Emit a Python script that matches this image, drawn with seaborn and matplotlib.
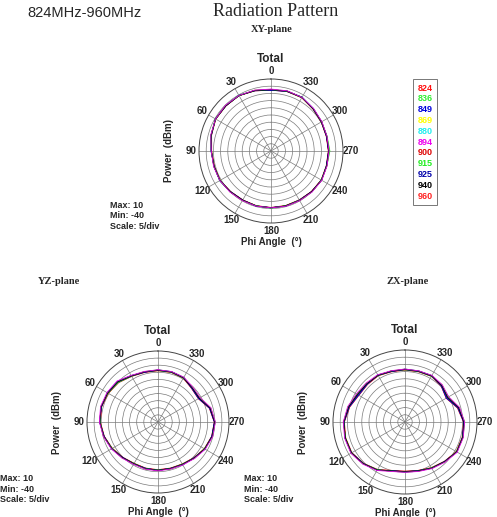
import numpy as np
import pandas as pd
import matplotlib
matplotlib.use("Agg")
import matplotlib.pyplot as plt
from matplotlib.lines import Line2D
import seaborn as sns

freqs = ["824", "836", "849", "869", "880", "894", "900", "915", "925", "940", "960"]
freq_colors = ["#ff1010", "#33ee33", "#0000dd", "#ffff00", "#22eeee", "#ee00ee",
               "#dd0000", "#22ee22", "#0000aa", "#000000", "#ff2020"]
# order the traces are drawn in (last one ends up on top)
draw_order = ["960", "869", "880", "900", "824", "849", "836", "925", "915", "940", "894"]

# measured angle (deg), every 15 deg
angles_deg = list(range(0, 360, 15))

# power in dBm, one list per frequency
xy_power = {
    "824": [2.5, 3.5, 4.5, 4.5, 4.5, 3.0, 1.5, 1.0, 1.0, 0.0, -0.5, -0.5, -0.5, -0.5, -0.5, 0.0, 0.5, 0.0, 0.0, 0.0, 0.5, 1.5, 3.0, 3.0],
    "836": [2.8, 3.6, 4.3, 4.7, 4.4, 3.2, 1.3, 1.2, 0.8, 0.2, -0.3, -0.6, -0.4, -0.7, -0.3, 0.2, 0.3, 0.2, 0.6, 0.1, 0.7, 1.6, 2.8, 3.2],
    "849": [2.2, 3.3, 4.6, 4.3, 4.6, 2.8, 1.7, 0.9, 1.1, -0.2, -0.6, -0.3, -0.7, -0.4, -0.6, -0.1, 0.6, -0.2, 0.1, -0.2, 0.4, 1.3, 3.1, 2.8],
    "869": [2.6, 3.7, 4.4, 4.6, 4.3, 3.1, 1.4, 1.1, 0.9, 0.1, -0.4, -0.5, -0.6, -0.5, -0.4, 0.1, 0.4, 0.1, 0.2, 0.0, 0.6, 1.4, 2.9, 3.1],
    "880": [2.4, 3.4, 4.7, 4.4, 4.7, 2.9, 1.6, 0.8, 1.2, -0.1, -0.7, -0.4, -0.3, -0.6, -0.7, 0.0, 0.5, -0.1, -0.1, 0.1, 0.3, 1.7, 3.2, 2.9],
    "894": [3.0, 3.8, 4.5, 4.8, 4.5, 3.3, 1.5, 1.3, 1.0, 0.3, -0.2, -0.4, -0.5, -0.3, -0.2, 0.3, 0.7, 0.3, 0.3, 0.2, 0.8, 1.8, 3.0, 3.3],
    "900": [2.3, 3.2, 4.4, 4.2, 4.3, 2.7, 1.2, 0.7, 0.8, -0.3, -0.8, -0.7, -0.8, -0.8, -0.8, -0.3, 0.2, -0.3, -0.2, -0.3, 0.2, 1.2, 2.7, 2.7],
    "915": [2.7, 3.5, 4.6, 4.5, 4.6, 3.0, 1.6, 1.0, 1.1, 0.0, -0.4, -0.6, -0.4, -0.5, -0.5, 0.1, 0.5, 0.1, 0.9, 0.3, 0.5, 1.5, 3.0, 3.0],
    "925": [2.5, 3.6, 4.5, 4.6, 4.4, 3.1, 1.5, 1.1, 1.0, 0.1, -0.5, -0.5, -0.6, -0.4, -0.5, 0.0, 0.4, 0.0, 0.0, 0.1, 0.6, 1.6, 3.1, 3.1],
    "940": [2.6, 3.4, 4.4, 4.4, 4.5, 3.0, 1.4, 1.0, 0.9, 0.0, -0.6, -0.5, -0.5, -0.6, -0.4, -0.1, 0.5, 0.0, 0.1, 0.0, 0.5, 1.4, 2.9, 3.0],
    "960": [2.4, 3.5, 4.5, 4.5, 4.6, 2.9, 1.5, 0.9, 1.0, -0.1, -0.5, -0.4, -0.5, -0.5, -0.6, 0.0, 0.6, 0.1, 0.0, -0.1, 0.4, 1.5, 3.0, 2.9],
}

yz_power = {
    "824": [-3.5, -3.5, -2.5, 0.0, 1.0, 1.5, 1.0, -0.5, -2.5, -4.5, -6.0, -6.0, -6.0, -6.0, -5.5, -4.0, -2.0, -0.5, 0.0, -2.0, -6.5, -6.0, -4.0, -3.5],
    "836": [-3.8, -3.2, -2.8, -0.6, 0.6, 1.7, 0.8, -0.3, -2.8, -4.2, -6.3, -5.7, -6.2, -5.8, -5.8, -3.7, -2.3, -0.2, 0.3, -1.6, -6.0, -5.5, -4.3, -3.7],
    "849": [-3.3, -3.7, -2.2, 0.5, 1.3, 1.2, 1.2, -0.8, -2.2, -4.8, -5.8, -6.3, -5.8, -6.2, -5.2, -4.3, -1.8, -0.8, -0.3, -2.4, -7.0, -6.4, -3.8, -3.3],
    "869": [-3.6, -3.4, -2.6, -0.3, 0.8, 1.6, 0.9, -0.4, -2.6, -4.4, -6.1, -5.9, -6.1, -5.9, -5.6, -3.9, -2.1, -0.4, 0.1, -1.8, -6.2, -5.8, -4.1, -3.6],
    "880": [-3.4, -3.6, -2.4, 0.3, 1.1, 1.4, 1.1, -0.6, -2.4, -4.6, -5.9, -6.1, -5.9, -6.1, -5.4, -4.1, -1.9, -0.6, -0.1, -2.2, -6.8, -6.2, -3.9, -3.4],
    "894": [-3.2, -3.1, -2.1, 0.8, 1.5, 1.9, 1.3, -0.2, -2.1, -4.1, -5.6, -5.6, -5.6, -5.7, -5.1, -3.6, -1.6, -0.1, 0.4, -1.4, -5.7, -5.3, -3.6, -3.2],
    "900": [-3.9, -3.9, -2.9, -0.8, 0.4, 1.1, 0.6, -0.9, -2.9, -4.9, -6.4, -6.4, -6.4, -6.4, -5.9, -4.4, -2.4, -0.9, -0.4, -2.6, -7.2, -6.6, -4.4, -3.9],
    "915": [-3.2, -3.3, -2.3, 0.2, 1.2, 1.6, 1.0, -0.5, -2.5, -4.4, -5.9, -6.0, -5.9, -6.0, -5.5, -4.0, -2.0, -0.4, 0.2, -1.7, -6.0, -5.7, -3.7, -3.3],
    "925": [-3.6, -3.6, -2.6, -0.2, 0.9, 1.4, 0.9, -0.6, -2.6, -4.6, -6.1, -6.1, -6.1, -6.1, -5.6, -4.1, -2.1, -0.6, -0.1, -2.1, -6.6, -6.1, -4.1, -3.6],
    "940": [-3.5, -3.4, -2.5, 0.1, 1.0, 1.5, 1.0, -0.5, -2.4, -4.5, -6.0, -5.9, -6.0, -6.0, -5.5, -4.0, -2.0, -0.5, 0.0, -2.0, -6.4, -5.9, -4.0, -3.5],
    "960": [-3.7, -3.5, -2.7, -0.4, 0.7, 1.3, 0.8, -0.7, -2.7, -4.7, -6.2, -6.2, -6.1, -6.2, -5.7, -4.2, -2.2, -0.7, -0.2, -2.3, -6.9, -6.3, -4.2, -3.7],
}

zx_power = {
    "824": [-3.5, -3.5, -2.5, -2.5, -2.0, 0.5, 2.5, 3.0, 3.0, 1.0, -1.5, -4.8, -5.5, -4.8, -3.0, -1.0, 1.5, 1.5, 1.0, -1.5, -6.0, -4.0, -3.0, -3.5],
    "836": [-3.8, -3.2, -2.8, -2.0, -1.2, 1.0, 2.7, 2.8, 3.2, 1.2, -1.8, -4.5, -5.7, -4.6, -3.3, -0.8, 1.3, 1.7, 1.3, -1.0, -5.2, -3.6, -3.3, -3.7],
    "849": [-3.3, -3.7, -2.2, -2.9, -2.8, 0.1, 2.3, 3.2, 2.8, 0.8, -1.3, -5.0, -5.3, -5.0, -2.8, -1.2, 1.7, 1.3, 0.8, -2.0, -6.8, -4.4, -2.8, -3.3],
    "869": [-3.6, -3.4, -2.6, -2.3, -1.6, 0.7, 2.6, 2.9, 3.1, 1.1, -1.6, -4.7, -5.6, -4.7, -3.1, -0.9, 1.4, 1.6, 1.1, -1.3, -5.6, -3.8, -3.1, -3.6],
    "880": [-3.4, -3.6, -2.4, -2.7, -2.4, 0.3, 2.4, 3.1, 2.9, 0.9, -1.4, -4.9, -5.4, -4.9, -2.9, -1.1, 1.6, 1.4, 0.9, -1.8, -6.5, -4.2, -2.9, -3.4],
    "894": [-3.2, -3.1, -2.1, -1.8, -1.0, 1.2, 2.9, 3.4, 3.4, 1.4, -1.1, -4.4, -5.1, -4.4, -2.6, -0.6, 1.9, 1.9, 1.4, -0.8, -5.0, -3.4, -2.6, -3.2],
    "900": [-3.9, -3.9, -2.9, -3.2, -3.0, -0.2, 2.1, 2.6, 2.6, 0.6, -1.9, -5.2, -5.9, -5.2, -3.4, -1.4, 1.1, 1.1, 0.6, -2.3, -7.0, -4.6, -3.4, -3.9],
    "915": [-3.2, -3.3, -2.3, -2.2, -1.4, 0.8, 2.6, 3.0, 3.0, 1.0, -1.5, -4.7, -5.4, -4.7, -3.0, -0.9, 1.5, 1.6, 1.5, -1.2, -5.4, -3.7, -2.8, -3.3],
    "925": [-3.6, -3.6, -2.6, -2.6, -2.2, 0.4, 2.5, 3.0, 3.1, 0.9, -1.6, -4.9, -5.6, -4.9, -3.1, -1.1, 1.4, 1.5, 1.0, -1.6, -6.2, -4.1, -3.1, -3.6],
    "940": [-3.5, -3.4, -2.5, -2.4, -1.8, 0.6, 2.5, 2.9, 3.0, 1.0, -1.5, -4.8, -5.5, -4.8, -3.0, -1.0, 1.5, 1.5, 1.0, -1.4, -5.8, -3.9, -3.0, -3.5],
    "960": [-3.7, -3.5, -2.7, -2.8, -2.5, 0.2, 2.4, 2.9, 2.9, 0.9, -1.7, -4.9, -5.6, -4.9, -3.2, -1.2, 1.3, 1.4, 0.9, -1.9, -6.6, -4.3, -3.2, -3.7],
}

r_max, r_min, r_step = 10, -40, 5

sns.set_style("white")
plt.rcParams["font.family"] = ["Liberation Sans", "DejaVu Sans"]

BOLD = {"family": ["Liberation Sans", "DejaVu Sans"], "weight": "bold"}
SERIF = {"family": ["Liberation Serif", "DejaVu Serif"]}


def to_frame(power):
    rows = []
    for f in draw_order:
        vals = power[f] + [power[f][0]]
        angs = angles_deg + [360]
        for a, v in zip(angs, vals):
            rows.append((np.deg2rad(a), v, f))
    return pd.DataFrame(rows, columns=["theta", "power", "freq"])


def draw_polar(fig, rect, power):
    ax = fig.add_axes(rect, projection="polar")
    df = to_frame(power)
    sns.lineplot(data=df, x="theta", y="power", hue="freq", hue_order=draw_order,
                 palette=dict(zip(freqs, freq_colors)), sort=False,
                 estimator=None, legend=False, lw=0.6, ax=ax)
    ax.set_theta_zero_location("N")
    ax.set_theta_direction(1)
    ax.set_ylim(r_min, r_max)
    ax.set_yticks(np.arange(r_min + r_step, r_max, r_step))
    ax.set_yticklabels([])
    ax.set_xticks(np.deg2rad(np.arange(0, 360, 30)))
    ax.set_xticklabels([str(a) for a in range(0, 360, 30)], fontdict={**BOLD, "size": 7})
    ax.tick_params(axis="x", pad=-5)
    ax.grid(True, color="#7a7a7a", lw=0.5)
    ax.spines["polar"].set_color("#444444")
    ax.spines["polar"].set_linewidth(0.7)
    ax.set_title("Total", fontdict={**BOLD, "size": 8.5}, pad=3)
    ax.set_xlabel("Phi Angle  (\u00b0)", fontdict={**BOLD, "size": 7}, labelpad=1)
    ax.set_ylabel("Power  (dBm)", fontdict={**BOLD, "size": 7}, labelpad=18)
    return ax


W, H = 497, 517
fig = plt.figure(figsize=(W / 100, H / 100), dpi=100)


def rect_px(cx, cy, r):
    return [(cx - r) / W, 1 - (cy + r) / H, 2 * r / W, 2 * r / H]


draw_polar(fig, rect_px(271, 151, 72), xy_power)
draw_polar(fig, rect_px(158, 422, 71), yz_power)
draw_polar(fig, rect_px(405, 422, 72), zx_power)

fig.text(27 / W, 1 - 13 / H, "824MHz-960MHz", fontsize=10.5, va="center", ha="left")
fig.text(276 / W, 1 - 11 / H, "Radiation Pattern", fontdict={**SERIF, "size": 13}, va="center", ha="center")
fig.text(272 / W, 1 - 29 / H, "XY-plane", fontdict={**SERIF, "size": 7.5, "weight": "bold"}, va="center", ha="center")
fig.text(59 / W, 1 - 281 / H, "YZ-plane", fontdict={**SERIF, "size": 7.5, "weight": "bold"}, va="center", ha="center")
fig.text(408 / W, 1 - 281 / H, "ZX-plane", fontdict={**SERIF, "size": 7.5, "weight": "bold"}, va="center", ha="center")

scale_text = f"Max: {r_max}\nMin: {r_min}\nScale: {r_step}/div"
for x, y in [(110, 216), (0, 489), (244, 489)]:
    fig.text(x / W, 1 - y / H, scale_text, fontdict={**BOLD, "size": 6.5},
             va="center", ha="left", linespacing=1.25)

handles = [Line2D([], [], color=c, lw=0) for c in freq_colors]
leg = fig.legend(handles, freqs, loc="upper left", bbox_to_anchor=(413 / W, 1 - 79 / H),
                 handlelength=0, handletextpad=0, labelcolor=freq_colors,
                 prop={**BOLD, "size": 6.5}, frameon=True, fancybox=False,
                 edgecolor="#555555", borderpad=0.5, labelspacing=0.2, borderaxespad=0)
leg.get_frame().set_linewidth(0.7)

fig.savefig("out.png", dpi=100, facecolor="white")
